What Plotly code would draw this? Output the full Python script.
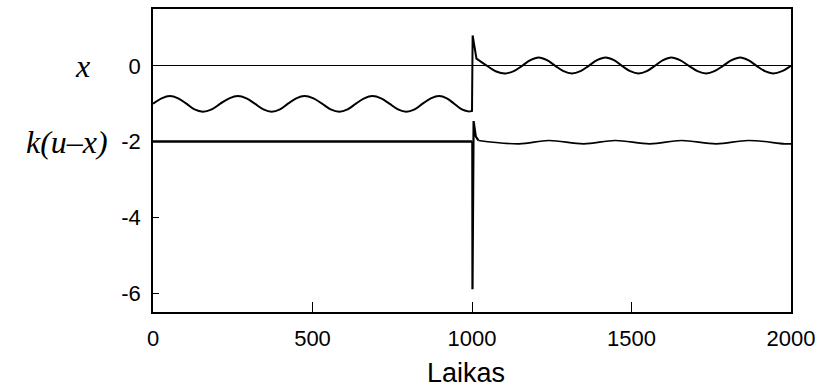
import plotly.graph_objects as go

# ---- data ----
# x(t) before the switch (t < 1000)
t_x_pre = [0, 27, 53, 79, 105, 130, 156, 184, 211, 239, 266, 293, 319, 346, 372, 398, 423, 449, 475, 503,
           530, 557, 584, 610, 636, 662, 688, 715, 741, 768, 794, 820, 845, 871, 897, 921, 944, 968, 991]
v_x_pre = [-1.0, -0.86, -0.80, -0.86, -1.0, -1.15, -1.21, -1.15, -1.0, -0.86, -0.80, -0.86, -1.0, -1.15, -1.21,
           -1.15, -1.0, -0.86, -0.80, -0.86, -1.0, -1.15, -1.21, -1.15, -1.0, -0.86, -0.80, -0.86, -1.0, -1.15,
           -1.21, -1.15, -1.0, -0.86, -0.80, -0.86, -1.0, -1.15, -1.21]
# x(t) jump around t = 1000
t_x_jump = [991, 1000, 1002, 1014, 1047]
v_x_jump = [-1.21, -1.19, 0.80, 0.19, 0.0]
# x(t) after the switch
t_x_post = [1047, 1076, 1105, 1131, 1157, 1183, 1209, 1235, 1261, 1287, 1313, 1340, 1366, 1392, 1419, 1445,
            1470, 1496, 1522, 1548, 1573, 1599, 1625, 1652, 1680, 1707, 1734, 1760, 1787, 1814, 1841, 1866,
            1892, 1918, 1944, 1972, 2000]
v_x_post = [0.0, -0.15, -0.20, -0.14, 0.0, 0.15, 0.22, 0.15, 0.0, -0.14, -0.20, -0.14, 0.0, 0.15, 0.22, 0.15,
            0.0, -0.14, -0.20, -0.14, 0.0, 0.15, 0.22, 0.15, 0.0, -0.14, -0.20, -0.14, 0.0, 0.15, 0.22, 0.15,
            0.0, -0.14, -0.20, -0.14, 0.0]

# k(u-x) before the switch
t_k_pre = [0, 1001]
v_k_pre = [-2.0, -2.0]
# k(u-x) spike around t = 1000
t_k_jump = [1001, 1001.5, 1005, 1012, 1020]
v_k_jump = [-2.0, -5.9, -1.46, -1.87, -1.97]
# k(u-x) after the switch
t_k_post = [1020, 1147, 1241, 1350, 1449, 1558, 1656, 1766, 1866, 1980, 2000]
v_k_post = [-1.97, -2.06, -1.97, -2.06, -1.97, -2.06, -1.97, -2.06, -1.97, -2.06, -2.06]

x_ticks = [0, 500, 1000, 1500, 2000]
x_tick_text = ["0", "500", "1000", "1500", "2000"]
y_ticks = [0, -2, -4, -6]
y_tick_text = ["0", "-2", "-4", "-6"]
x_title = "Laikas"
label_x = "x"
label_k = "k(u\u2013x)"

fig = go.Figure()
fig.add_trace(go.Scatter(x=t_x_pre, y=v_x_pre, mode="lines", line=dict(color="black", width=2, shape="spline", smoothing=1.0)))
fig.add_trace(go.Scatter(x=t_x_jump, y=v_x_jump, mode="lines", line=dict(color="black", width=2)))
fig.add_trace(go.Scatter(x=t_x_post, y=v_x_post, mode="lines", line=dict(color="black", width=2, shape="spline", smoothing=1.0)))
fig.add_trace(go.Scatter(x=t_k_pre, y=v_k_pre, mode="lines", line=dict(color="black", width=2.5)))
fig.add_trace(go.Scatter(x=t_k_jump, y=v_k_jump, mode="lines", line=dict(color="black", width=2.2)))
fig.add_trace(go.Scatter(x=t_k_post, y=v_k_post, mode="lines", line=dict(color="black", width=1.6, shape="spline", smoothing=1.0)))

tickfont = dict(family="Liberation Sans, Arial, sans-serif", size=22, color="black")
fig.update_xaxes(range=[0, 2000], tickvals=x_ticks, ticktext=x_tick_text, ticks="inside", ticklen=10,
                 tickcolor="black", tickwidth=1, ticklabelstandoff=6,
                 showline=True, linecolor="black", linewidth=1.5, mirror=True, showgrid=False, zeroline=False,
                 tickfont=tickfont)
fig.update_yaxes(range=[-6.5, 1.5], tickvals=y_ticks, ticktext=y_tick_text, ticks="inside", ticklen=6,
                 tickcolor="black", tickwidth=1, ticklabelstandoff=6,
                 showline=True, linecolor="black", linewidth=1.5, mirror=True, showgrid=False,
                 zeroline=True, zerolinecolor="black", zerolinewidth=1, tickfont=tickfont)

serif = dict(family="Liberation Serif, Times New Roman, serif", size=32, color="black")
fig.add_annotation(x=-0.095, xref="paper", y=0, yref="y", text="<i>" + label_x + "</i>", showarrow=False,
                   xanchor="right", yanchor="middle", font=serif)
fig.add_annotation(x=-0.068, xref="paper", y=-2, yref="y", text="<i>" + label_k + "</i>", showarrow=False,
                   xanchor="right", yanchor="middle", font=serif)
fig.add_annotation(x=0.49, xref="paper", y=-0.2, yref="paper", text=x_title, showarrow=False,
                   xanchor="center", yanchor="middle",
                   font=dict(family="Liberation Sans, Arial, sans-serif", size=27, color="black"))

fig.update_layout(width=822, height=391, margin=dict(l=153, r=29, t=7, b=79),
                  plot_bgcolor="white", paper_bgcolor="white", showlegend=False)

fig.write_html("out.html")
